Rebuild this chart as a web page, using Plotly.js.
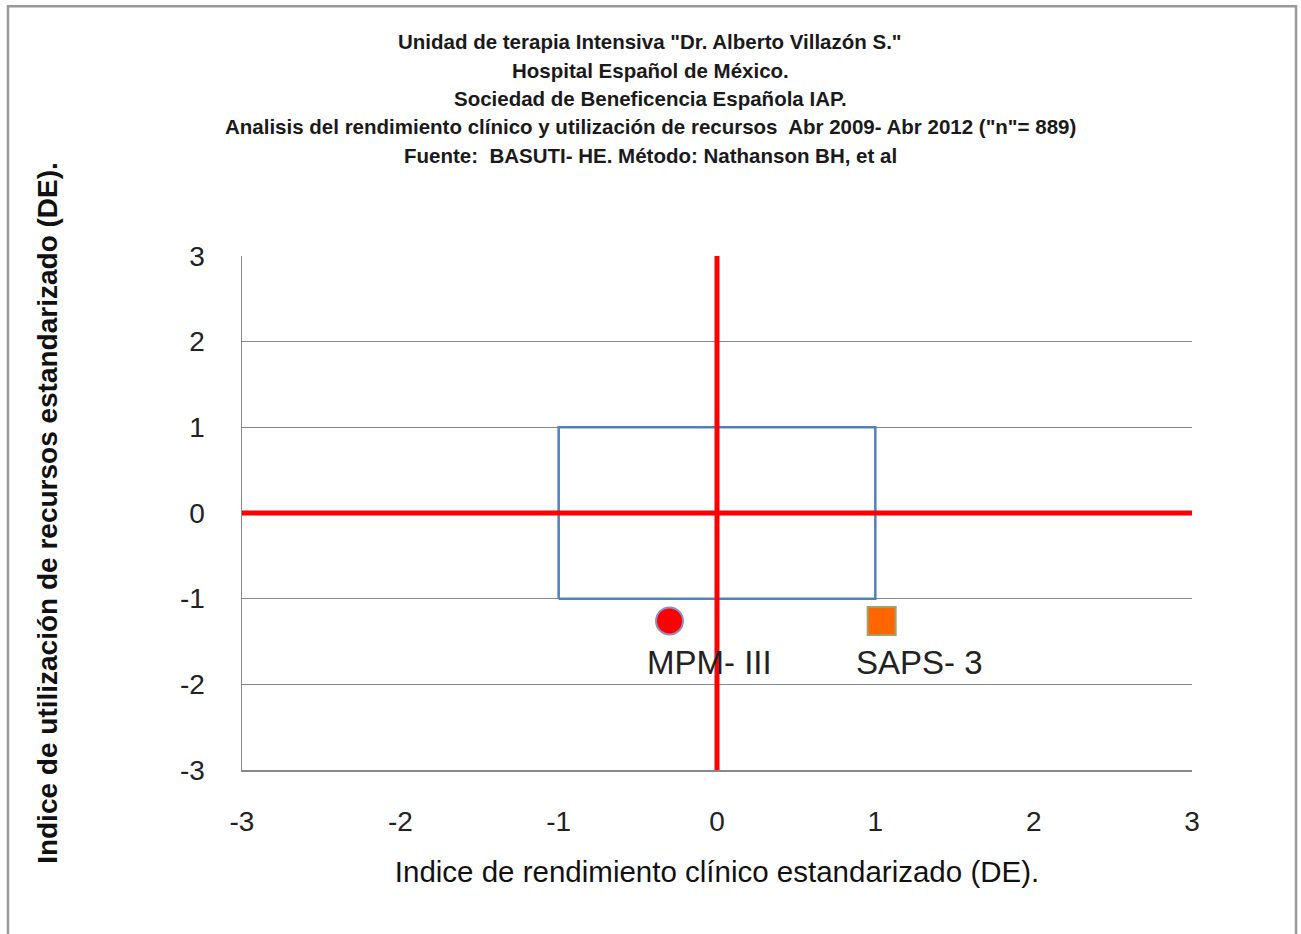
<!DOCTYPE html>
<html>
<head>
<meta charset="utf-8">
<script src="https://cdn.plot.ly/plotly-3.0.1.min.js"></script>
<style>html,body{margin:0;padding:0;background:#fff;}#chart{width:1301px;height:934px;}</style>
</head>
<body>
<div id="chart"></div>
<script>
// Data
const titleLines = [
  'Unidad de terapia Intensiva "Dr. Alberto Villazón S."',
  'Hospital Español de México.',
  'Sociedad de Beneficencia Española IAP.',
  'Analisis del rendimiento clínico y utilización de recursos  Abr 2009- Abr 2012 ("n"= 889)',
  'Fuente:  BASUTI- HE. Método: Nathanson BH, et al'
];
const modelNames = ['MPM- III', 'SAPS- 3'];
const modelX = [-0.30, 1.04];
const modelY = [-1.26, -1.26];
const boxX = [-1, 1, 1, -1, -1];
const boxY = [-1, -1, 1, 1, -1];
const vLineX = [0, 0];
const vLineY = [-3, 3];
const hLineX = [-3, 3];
const hLineY = [0, 0];
const tickVals = [-3, -2, -1, 0, 1, 2, 3];
const tickText = ['-3', '-2', '-1', '0', '1', '2', '3'];
const xTitle = 'Indice de rendimiento clínico estandarizado (DE).';
const yTitle = 'Indice de utilización de recursos estandarizado (DE).';

const font = 'Liberation Sans, Arial, sans-serif';

const traces = [
  {x: boxX, y: boxY, mode: 'lines', line: {color: '#4f81bd', width: 2.5}, hoverinfo: 'skip'},
  {x: hLineX, y: hLineY, mode: 'lines', line: {color: '#ff0000', width: 5}, hoverinfo: 'skip'},
  {x: vLineX, y: vLineY, mode: 'lines', line: {color: '#ff0000', width: 5}, hoverinfo: 'skip'},
  {x: [modelX[0]], y: [modelY[0]], mode: 'markers', name: modelNames[0],
   marker: {symbol: 'circle', size: 27, color: '#ff0000', line: {color: '#8a8fc8', width: 2}}},
  {x: [modelX[1]], y: [modelY[1]], mode: 'markers', name: modelNames[1],
   marker: {symbol: 'square', size: 28, color: '#ff6600', line: {color: '#9ea468', width: 2}}}
];

const annotations = titleLines.map((t, i) => ({
  text: t, xref: 'paper', yref: 'paper', x: 0.4295, y: (770 - (42 + 28.3 * i)) / 514,
  xanchor: 'center', yanchor: 'middle', showarrow: false,
  font: {family: font, size: 20.5, color: '#1a1a1a', weight: 'bold'}
}));
modelNames.forEach((n, i) => annotations.push({
  text: n, x: modelX[i], y: modelY[i], xref: 'x', yref: 'y',
  xshift: 40 - (i === 1 ? 2 : 0), yshift: -42, showarrow: false, xanchor: 'center', yanchor: 'middle',
  font: {family: font, size: 33, color: '#222'}
}));

const layout = {
  width: 1301, height: 934,
  margin: {l: 242, r: 109, t: 256, b: 164},
  paper_bgcolor: '#fff', plot_bgcolor: '#fff',
  showlegend: false,
  xaxis: {
    range: [-3, 3], tickvals: tickVals, ticktext: tickText, showgrid: false, zeroline: false,
    showline: true, linecolor: '#888', linewidth: 1.5, ticks: '',
    tickfont: {family: font, size: 28, color: '#222'}, ticklabelstandoff: 26,
    title: {text: xTitle, font: {family: font, size: 29.5, color: '#111'}, standoff: 25}
  },
  yaxis: {
    range: [-3, 3], tickvals: tickVals, ticktext: tickText, showgrid: true, gridcolor: '#888', gridwidth: 1.2,
    zeroline: false, showline: true, linecolor: '#888', linewidth: 1.5, ticks: '',
    tickfont: {family: font, size: 28, color: '#222'}, ticklabelstandoff: 30,
    title: {text: '<b>' + yTitle + '</b>', font: {family: font, size: 28, color: '#111'}, standoff: 114}
  },
  annotations: annotations,
  shapes: [{type: 'rect', xref: 'paper', yref: 'paper', x0: -0.2463, x1: 1.1095, y0: -0.4, y1: 1.486,
            line: {color: '#999', width: 2.5}, layer: 'below'}]
};

Plotly.newPlot('chart', traces, layout, {displayModeBar: false, staticPlot: true});
</script>
</body>
</html>
